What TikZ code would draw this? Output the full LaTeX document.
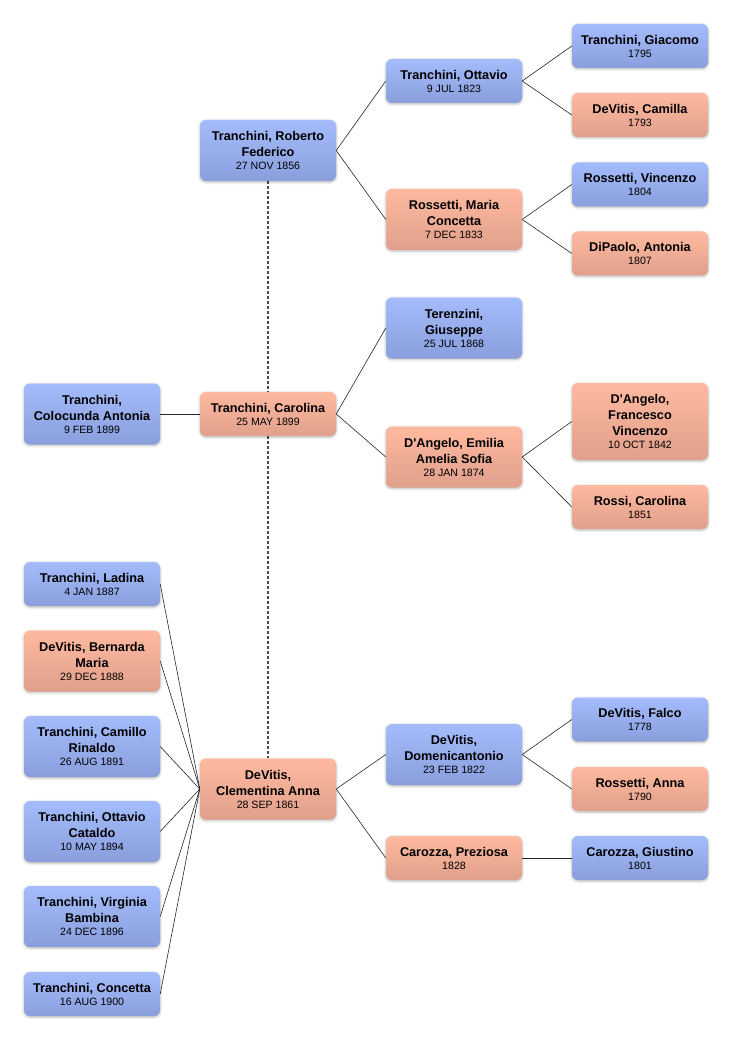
\documentclass[tikz,border=0pt]{standalone}
\usepackage{fontspec}
\setmainfont{Liberation Sans}[Ligatures=TeXOff]
\usetikzlibrary{shadows,shadows.blur,backgrounds}
\definecolor{btop}{HTML}{A4BCFC}
\definecolor{bbot}{HTML}{8A9EDC}
\definecolor{ptop}{HTML}{FFB99F}
\definecolor{pbot}{HTML}{E0A08C}
\newcommand\namefont{\fontsize{12.7}{16}\selectfont\bfseries}
\newcommand\datefont{\fontsize{10.6}{13}\selectfont\mdseries}
\tikzset{
  person/.style={rectangle, rounded corners=6pt, minimum width=136pt, inner sep=0pt,
    align=center, font=\namefont, text=black,
    blur shadow={shadow xshift=0pt, shadow yshift=-1pt, shadow blur radius=2.5pt, shadow opacity=30}},
  bluebox/.style={person, top color=btop, bottom color=bbot},
  pinkbox/.style={person, top color=ptop, bottom color=pbot},
  hA/.style={minimum height=44pt},
  hB/.style={minimum height=61pt},
  hC/.style={minimum height=77pt},
  link/.style={draw=black!85, line width=0.6pt},
  spouse/.style={draw=black!70, line width=1.3pt, dash pattern=on 3pt off 2pt}
}
\begin{document}
\begin{tikzpicture}[x=1pt,y=-1pt]
\useasboundingbox (0,0) rectangle (732,1040);
% column 4
\node[bluebox,hA] (giacomo) at (640,46) {Tranchini, Giacomo\\[-3pt]\datefont 1795};
\node[pinkbox,hA] (camilla) at (640,115) {DeVitis, Camilla\\[-3pt]\datefont 1793};
\node[bluebox,hA] (vincenzo) at (640,184.5) {Rossetti, Vincenzo\\[-3pt]\datefont 1804};
\node[pinkbox,hA] (antonia) at (640,253.5) {DiPaolo, Antonia\\[-3pt]\datefont 1807};
\node[pinkbox,hC] (francesco) at (640,421.5) {D'Angelo,\\Francesco\\Vincenzo\\[-3pt]\datefont 10 OCT 1842};
\node[pinkbox,hA] (rossi) at (640,507) {Rossi, Carolina\\[-3pt]\datefont 1851};
\node[bluebox,hA] (falco) at (640,719.5) {DeVitis, Falco\\[-3pt]\datefont 1778};
\node[pinkbox,hA] (anna) at (640,789) {Rossetti, Anna\\[-3pt]\datefont 1790};
\node[bluebox,hA] (giustino) at (640,858) {Carozza, Giustino\\[-3pt]\datefont 1801};
% column 3
\node[bluebox,hA] (ottavio) at (454,81) {Tranchini, Ottavio\\[-3pt]\datefont 9 JUL 1823};
\node[pinkbox,hB] (maria) at (454,219.5) {Rossetti, Maria\\Concetta\\[-3pt]\datefont 7 DEC 1833};
\node[bluebox,hB] (giuseppe) at (454,328) {Terenzini,\\Giuseppe\\[-3pt]\datefont 25 JUL 1868};
\node[pinkbox,hB] (emilia) at (454,457) {D'Angelo, Emilia\\Amelia Sofia\\[-3pt]\datefont 28 JAN 1874};
\node[bluebox,hB] (domenic) at (454,754.5) {DeVitis,\\Domenicantonio\\[-3pt]\datefont 23 FEB 1822};
\node[pinkbox,hA] (preziosa) at (454,858) {Carozza, Preziosa\\[-3pt]\datefont 1828};
% column 2
\node[bluebox,hB] (roberto) at (268,150.5) {Tranchini, Roberto\\Federico\\[-3pt]\datefont 27 NOV 1856};
\node[pinkbox,hA] (carolina) at (268,414) {Tranchini, Carolina\\[-3pt]\datefont 25 MAY 1899};
\node[pinkbox,hB] (clementina) at (268,789) {DeVitis,\\Clementina Anna\\[-3pt]\datefont 28 SEP 1861};
% column 1
\node[bluebox,hB] (colocunda) at (92,414) {Tranchini,\\Colocunda Antonia\\[-3pt]\datefont 9 FEB 1899};
\node[bluebox,hA] (ladina) at (92,584) {Tranchini, Ladina\\[-3pt]\datefont 4 JAN 1887};
\node[pinkbox,hB] (bernarda) at (92,661) {DeVitis, Bernarda\\Maria\\[-3pt]\datefont 29 DEC 1888};
\node[bluebox,hB] (camillo) at (92,746.5) {Tranchini, Camillo\\Rinaldo\\[-3pt]\datefont 26 AUG 1891};
\node[bluebox,hB] (cataldo) at (92,831.5) {Tranchini, Ottavio\\Cataldo\\[-3pt]\datefont 10 MAY 1894};
\node[bluebox,hB] (virginia) at (92,916.5) {Tranchini, Virginia\\Bambina\\[-3pt]\datefont 24 DEC 1896};
\node[bluebox,hA] (concetta) at (92,994) {Tranchini, Concetta\\[-3pt]\datefont 16 AUG 1900};
\begin{pgfonlayer}{background}
\draw[spouse] (roberto.south) -- (clementina.north);
\draw[link] (roberto.east) -- (ottavio.west);
\draw[link] (roberto.east) -- (maria.west);
\draw[link] (ottavio.east) -- (giacomo.west);
\draw[link] (ottavio.east) -- (camilla.west);
\draw[link] (maria.east) -- (vincenzo.west);
\draw[link] (maria.east) -- (antonia.west);
\draw[link] (carolina.east) -- (giuseppe.west);
\draw[link] (carolina.east) -- (emilia.west);
\draw[link] (emilia.east) -- (francesco.west);
\draw[link] (emilia.east) -- (rossi.west);
\draw[link] (colocunda.east) -- (carolina.west);
\draw[link] (clementina.east) -- (domenic.west);
\draw[link] (clementina.east) -- (preziosa.west);
\draw[link] (domenic.east) -- (falco.west);
\draw[link] (domenic.east) -- (anna.west);
\draw[link] (preziosa.east) -- (giustino.west);
\foreach \c in {ladina,bernarda,camillo,cataldo,virginia,concetta}
  \draw[link] (clementina.west) -- (\c.east);
\end{pgfonlayer}
\end{tikzpicture}
\end{document}
